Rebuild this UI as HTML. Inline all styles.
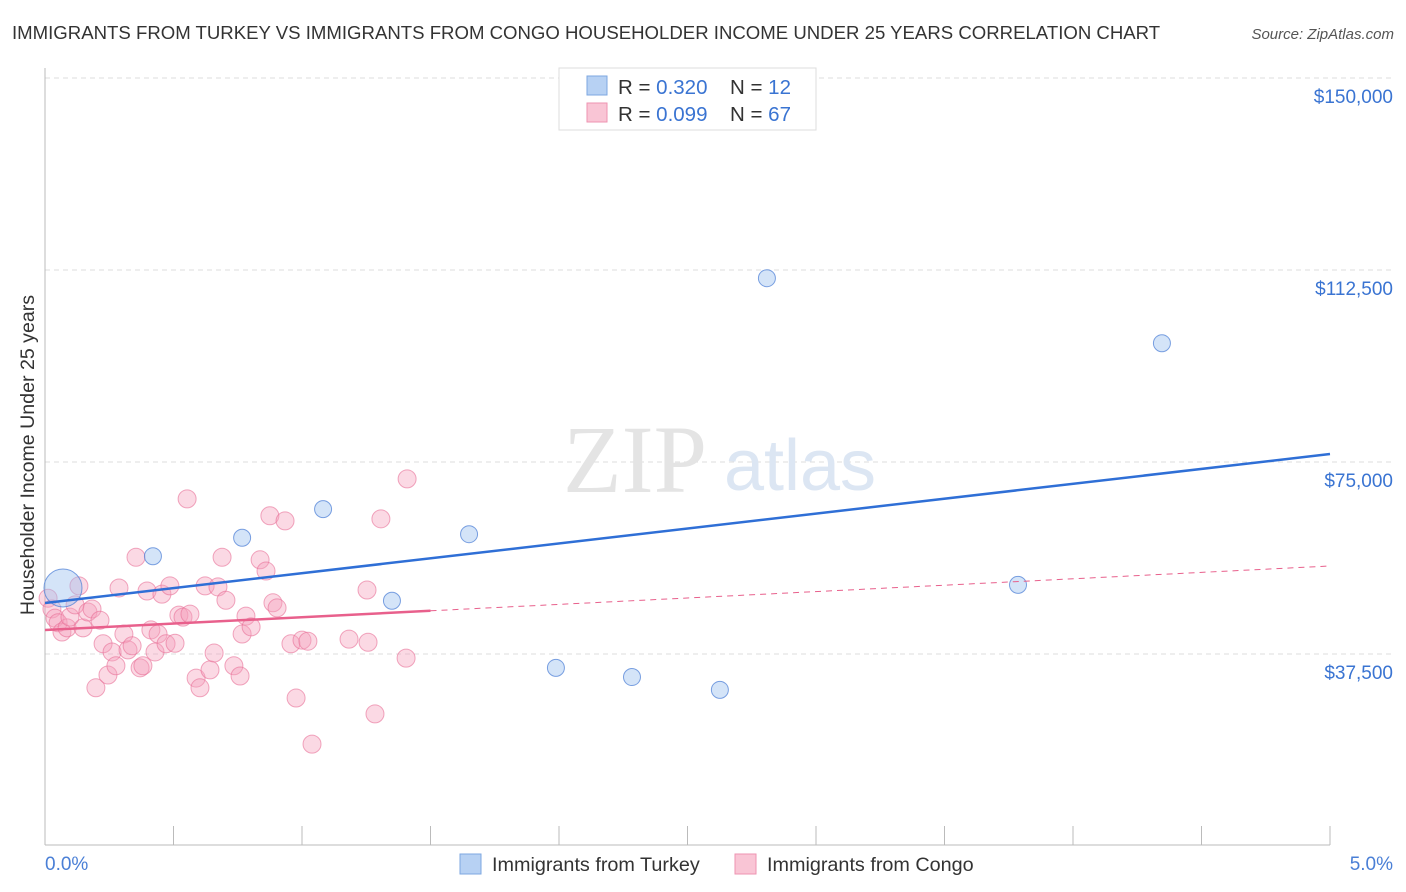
<!DOCTYPE html>
<html><head><meta charset="utf-8"><style>
body{margin:0;background:#fff;font-family:"Liberation Sans",sans-serif}
svg{display:block}
</style></head><body>
<svg id="chart" width="1406" height="892" xmlns="http://www.w3.org/2000/svg">
<text x="12" y="39" font-size="18.6" fill="#333">IMMIGRANTS FROM TURKEY VS IMMIGRANTS FROM CONGO HOUSEHOLDER INCOME UNDER 25 YEARS CORRELATION CHART</text>
<text x="1394" y="39" font-size="15" fill="#555" font-style="italic" text-anchor="end">Source: ZipAtlas.com</text>
<g id="grid"></g>
<text x="635" y="492" font-size="96" fill="#e4e4e4" font-family="Liberation Serif,serif" text-anchor="middle">ZIP</text>
<text x="800" y="490" font-size="72" fill="#dce6f3" text-anchor="middle">atlas</text>
<line x1="45" y1="68" x2="45" y2="845" stroke="#bbb"/>
<line x1="45" y1="845" x2="1330" y2="845" stroke="#bbb"/>
<g id="xticks"></g>
<g id="ylabels"></g>
<text x="45" y="870" font-size="19" fill="#4a7fd6">0.0%</text>
<text x="1393" y="870" font-size="19" fill="#4a7fd6" text-anchor="end">5.0%</text>
<text transform="translate(34,455) rotate(-90)" font-size="19.6" fill="#333" text-anchor="middle">Householder Income Under 25 years</text>
<g id="pink"></g>
<g id="blue"></g>
<g id="trends"></g>
<g>
<rect x="559" y="68" width="257" height="62" fill="#fff" stroke="#ddd"/>
<rect x="587" y="76" width="20" height="19" fill="#b7d1f3" stroke="#7ea7e0"/>
<rect x="587" y="103" width="20" height="19" fill="#f9c5d5" stroke="#ee93b1"/>
<text x="618" y="94" font-size="20.5" fill="#333">R = <tspan fill="#3a74d2">0.320</tspan></text>
<text x="730" y="94" font-size="20.5" fill="#333">N = <tspan fill="#3a74d2"> 12</tspan></text>
<text x="618" y="121" font-size="20.5" fill="#333">R = <tspan fill="#3a74d2">0.099</tspan></text>
<text x="730" y="121" font-size="20.5" fill="#333">N = <tspan fill="#3a74d2">67</tspan></text>
</g>
<g>
<rect x="460" y="854" width="21" height="20" fill="#b7d1f3" stroke="#7ea7e0"/>
<text x="492" y="871" font-size="19.8" fill="#333">Immigrants from Turkey</text>
<rect x="735" y="854" width="21" height="20" fill="#f9c5d5" stroke="#ee93b1"/>
<text x="767" y="871" font-size="19.8" fill="#333">Immigrants from Congo</text>
</g>
</svg>
<script>
const yTicks=[37500,75000,112500,150000];
const yTickLabels=["$37,500","$75,000","$112,500","$150,000"];
const xTicks=[0,0.5,1,1.5,2,2.5,3,3.5,4,4.5,5];
const congoX=[0.012,0.027,0.039,0.051,0.066,0.086,0.097,0.117,0.132,0.148,0.167,0.183,0.198,0.214,0.226,0.245,0.261,0.276,0.288,0.307,0.323,0.339,0.354,0.370,0.381,0.397,0.412,0.428,0.440,0.455,0.471,0.486,0.506,0.521,0.537,0.553,0.564,0.588,0.603,0.623,0.642,0.658,0.673,0.689,0.704,0.735,0.759,0.767,0.782,0.802,0.837,0.860,0.875,0.887,0.903,0.934,0.957,0.977,1.000,1.023,1.039,1.183,1.253,1.257,1.284,1.307,1.405,1.409];
const congoY=[48.4,46.3,44.5,43.6,41.8,42.6,44.7,47.1,50.8,42.6,45.7,46.3,30.9,44.1,39.5,33.4,37.9,35.2,50.4,41.4,38.3,39.1,56.4,34.8,35.2,49.8,42.2,37.9,41.4,49.2,39.5,50.8,39.6,45.1,44.7,67.8,45.3,32.8,30.9,50.8,34.4,37.7,50.6,56.4,48.0,35.2,33.2,41.4,44.9,42.8,55.9,53.7,64.5,47.5,46.5,63.5,39.5,28.9,40.2,40.0,19.9,40.4,50.0,39.8,25.8,63.9,36.7,71.7];
const turkeyX=[0.070,0.420,0.767,1.082,1.350,1.650,1.988,2.284,2.626,2.809,3.786,4.346];
const turkeyY=[50.4,56.6,60.2,65.8,47.9,60.9,34.8,33.0,30.5,110.9,51.0,98.2];
const turkeyTrend=[47.46,76.56];
const congoTrend=[42.19,54.69];
const congoSolidEnd=1.5;
const NS="http://www.w3.org/2000/svg";
const sx=v=>45+v*257;
const sy=v=>846-v/37.5*192;
function mk(tag,attrs,parent){const e=document.createElementNS(NS,tag);for(const k in attrs)e.setAttribute(k,attrs[k]);document.getElementById(parent).appendChild(e);return e;}
yTicks.forEach((t,i)=>{
  const y=sy(t/1000);
  const l=mk('line',{x1:45,x2:1394,y1:y,y2:y,stroke:'#ddd','stroke-dasharray':'5,4'},'grid');
  
  
  const tx=mk('text',{x:1393,y:y+25,'font-size':19,fill:'#3a74d2','text-anchor':'end'},'ylabels');
  tx.textContent=yTickLabels[i];
  
  
});
xTicks.forEach((t,i)=>{
  if(i===0)return;
  const l=mk('line',{x1:sx(t),x2:sx(t),y1:826,y2:845,stroke:'#bbb'},'xticks');
  
  
});
congoX.forEach((x,i)=>{
  const c=mk('circle',{cx:sx(x),cy:sy(congoY[i]),r:9,fill:'rgba(244,160,188,0.4)',stroke:'rgba(232,110,150,0.6)','stroke-width':1},'pink');
  
  
});
turkeyX.forEach((x,i)=>{
  const c=mk('circle',{cx:sx(x),cy:sy(turkeyY[i]),r:i===0?19:8.5,fill:'rgba(160,195,240,0.45)',stroke:'rgba(80,130,215,0.75)','stroke-width':1},'blue');
  
  
});
const tb=mk('line',{x1:sx(0),y1:sy(turkeyTrend[0]),x2:sx(5),y2:sy(turkeyTrend[1]),stroke:'#2f6fd6','stroke-width':2.5},'trends');


const cAt=x=>congoTrend[0]+(congoTrend[1]-congoTrend[0])*x/5;
const cs=mk('line',{x1:sx(0),y1:sy(cAt(0)),x2:sx(congoSolidEnd),y2:sy(cAt(congoSolidEnd)),stroke:'#e8608c','stroke-width':2.5},'trends');


const cd=mk('line',{x1:sx(congoSolidEnd),y1:sy(cAt(congoSolidEnd)),x2:sx(5),y2:sy(cAt(5)),stroke:'#e8608c','stroke-width':1,'stroke-dasharray':'6,5'},'trends');


</script>
</body></html>
